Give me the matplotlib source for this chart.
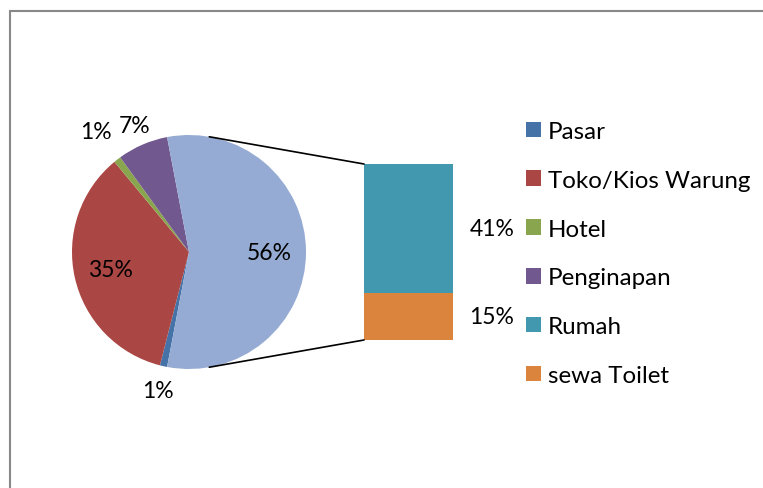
import numpy as np
import matplotlib
matplotlib.use("Agg")
import matplotlib.pyplot as plt
from matplotlib.patches import Rectangle, ConnectionPatch

plt.rcParams['font.family'] = ['Lato', 'DejaVu Sans']

# data (percent)
pie_labels = ["Pasar", "Toko/Kios Warung", "Hotel", "Penginapan", "Lainnya"]
pie_values = [1, 35, 1, 7, 56]
bar_labels = ["sewa Toilet", "Rumah"]
bar_values = [15, 41]

pie_colors = ["#4572A7", "#AA4643", "#89A54E", "#71588F", "#95ABD3"]
bar_colors = ["#DB843D", "#4198AF"]
# distance of each pie label from the centre (radius units)
label_r = [1.21, 0.69, 1.30, 1.18, 0.69]

W, H = 763, 489
fig = plt.figure(figsize=(W / 100, H / 100), dpi=100)

# outer chart border
fig.add_artist(Rectangle((10 / W, -0.1), 1.1, 1 - 12 / H + 0.1, transform=fig.transFigure,
                         fill=False, edgecolor="#888888", linewidth=1.5))

ax = fig.add_axes([72 / W, (H - 370) / H, 234 / W, 234 / H])
# the split slice is centred on the right-hand side
startangle = -360 * pie_values[-1] / sum(pie_values) / 2
wedges, _ = ax.pie(pie_values, colors=pie_colors, startangle=startangle,
                   counterclock=False, wedgeprops=dict(linewidth=0))
ax.set_xlim(-1, 1)
ax.set_ylim(-1, 1)

for w, r, v in zip(wedges, label_r, pie_values):
    ang = np.deg2rad((w.theta1 + w.theta2) / 2)
    ax.text(r * np.cos(ang), r * np.sin(ang), f"{v}%", ha="center", va="center", fontsize=16.5)

# bar of the split slice
bx = fig.add_axes([364 / W, (H - 341) / H, 88.5 / W, 176 / H])
bottom = 0
bars = []
for lab, v, c in zip(bar_labels, bar_values, bar_colors):
    b = bx.bar(0, v, bottom=bottom, width=1, color=c, linewidth=0, label=lab)
    bars.append(b[0])
    bx.text(0.69, bottom + v / 2, f"{v}%", ha="left", va="center", fontsize=16.5)
    bottom += v
bx.set_xlim(-0.5, 0.5)
bx.set_ylim(0, bottom)
bx.axis("off")

# connector lines tangent to the pie
fig.canvas.draw()
for yb in (bottom, 0):
    p = ax.transData.inverted().transform(bx.transData.transform((-0.5, yb)))
    d = np.hypot(*p)
    a = np.arctan2(p[1], p[0]) + np.sign(p[1]) * np.arccos(1 / d)
    con = ConnectionPatch((np.cos(a), np.sin(a)), (-0.5, yb), "data", "data",
                          axesA=ax, axesB=bx, color="black", linewidth=1.2)
    fig.add_artist(con)

handles = wedges[:4] + [bars[1], bars[0]]
names = pie_labels[:4] + [bar_labels[1], bar_labels[0]]
fig.legend(handles, names, loc="upper left", bbox_to_anchor=(526 / W, 1 - 122 / H),
           frameon=False, fontsize=17.4, handlelength=0.62, handleheight=0.62,
           handletextpad=0.3, labelspacing=1.15, borderaxespad=0, borderpad=0)

fig.savefig("out.png", dpi=100)
